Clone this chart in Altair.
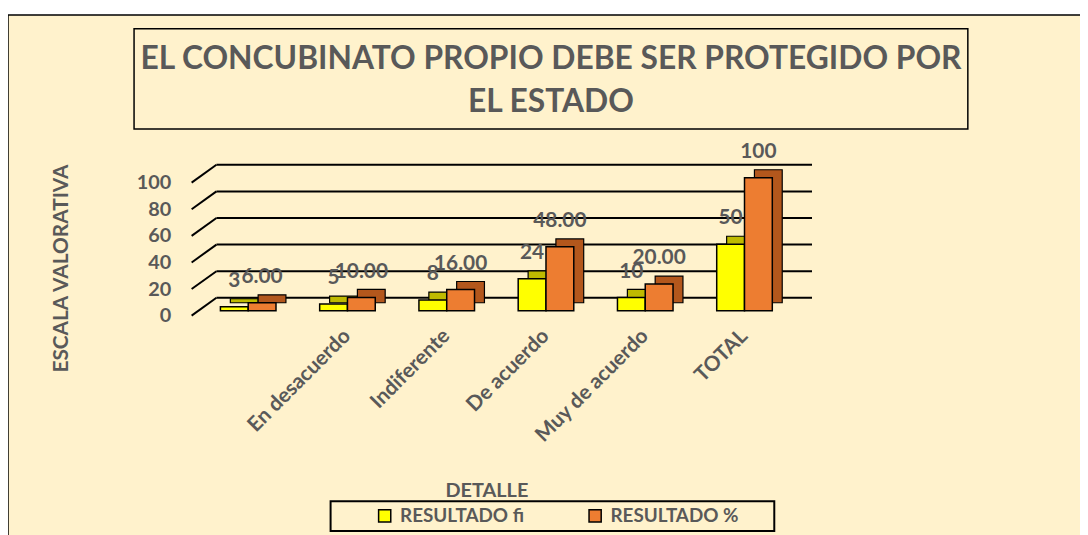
import altair as alt
import pandas as pd

# ---------------- data ----------------
categories = [" ", "En desacuerdo", "Indiferente", "De acuerdo", "Muy de acuerdo", "TOTAL"]
fi_values = [3, 5, 8, 24, 10, 50]
pct_values = [6, 10, 16, 48, 20, 100]
fi_labels = ["3", "5", "8", "24", "10", "50"]
pct_labels = ["6.00", "10.00", "16.00", "48.00", "20.00", "100"]
series_names = ["RESULTADO fi", "RESULTADO %"]
y_ticks = [0, 20, 40, 60, 80, 100]
title_lines = ["EL CONCUBINATO PROPIO DEBE SER PROTEGIDO POR", "EL ESTADO"]
y_title = "ESCALA VALORATIVA"
x_title = "DETALLE"

# ---------------- styling ----------------
FONT = "Lato"
TXT = "#595959"
BG = "#FFF2CC"
YELLOW, YELLOW_DARK = "#FFFF00", "#BFBA00"
ORANGE, ORANGE_DARK = "#ED7D31", "#B3571C"

rows = []
for c, v, l in zip(categories, fi_values, fi_labels):
    rows.append({"cat": c, "serie": series_names[0], "valor": v, "etiqueta": l})
for c, v, l in zip(categories, pct_values, pct_labels):
    rows.append({"cat": c, "serie": series_names[1], "valor": v, "etiqueta": l})
df = pd.DataFrame(rows)
grid_df = pd.DataFrame({"valor": y_ticks})
one = pd.DataFrame({"k": [0]})

x_scale = alt.Scale(domain=categories, paddingInner=0, paddingOuter=0)
y_scale = alt.Scale(domain=[0, 100], nice=False)

x_axis = alt.Axis(
    title=x_title, labelAngle=-45, labelAlign="right", labelBaseline="middle",
    labelPadding=22, ticks=False, domain=False, grid=False, zindex=2,
    labelFont=FONT, labelFontSize=21, labelFontWeight="bold", labelColor=TXT,
    titleFont=FONT, titleFontSize=20, titleFontWeight="bold", titleColor=TXT,
    titleX=290, titleY=181, titleBaseline="middle", titleAnchor="start", titleAlign="center",
)
y_axis = alt.Axis(
    title=y_title, values=y_ticks, labelOffset=5, labelPadding=28,
    ticks=False, domain=False, grid=False, zindex=2,
    labelFont=FONT, labelFontSize=20, labelFontWeight="bold", labelColor=TXT,
    titleFont=FONT, titleFontSize=21, titleFontWeight="bold", titleColor=TXT,
    titleAngle=270, titleX=-138, titleY=91, titleBaseline="middle", titleAlign="center",
)
legend = alt.Legend(
    title=None, orient="none", direction="horizontal", legendX=178, legendY=331,
    symbolType="square", symbolSize=150, symbolStrokeColor="black", symbolStrokeWidth=1.5,
    labelFont=FONT, labelFontSize=19, labelFontWeight="bold", labelColor=TXT,
    labelOffset=6, columnPadding=62, padding=0,
)
color_enc = alt.Color("serie:N", scale=alt.Scale(domain=series_names, range=[YELLOW, ORANGE]), legend=legend)

X = alt.X("cat:N", scale=x_scale, sort=categories, axis=x_axis)
Y = alt.Y("valor:Q", scale=y_scale, axis=y_axis)

# ---------------- decorative frames ----------------
frame = alt.Chart(one).mark_rect(fill=BG, stroke="black", strokeWidth=1.5).encode(
    x=alt.value(-192), x2=alt.value(900), y=alt.value(-164), y2=alt.value(380))
title_box = alt.Chart(one).mark_rect(fill=BG, stroke="black", strokeWidth=1.5).encode(
    x=alt.value(-65), x2=alt.value(775), y=alt.value(-150), y2=alt.value(-49))
title_text = alt.Chart(one).mark_text(
    font=FONT, fontSize=32, fontWeight="bold", color=TXT, align="center",
    baseline="middle", lineHeight=44).encode(
    x=alt.value(355), y=alt.value(-120), text=alt.value(title_lines))
legend_box = alt.Chart(one).mark_rect(fill=BG, stroke="black", strokeWidth=2).encode(
    x=alt.value(133), x2=alt.value(580), y=alt.value(326), y2=alt.value(356))

# ---------------- gridlines (back wall) ----------------
grid_h = alt.Chart(grid_df).mark_rule(color="black", strokeWidth=2, yOffset=-13).encode(
    x=alt.value(18), x2=alt.value(618), y=Y)
grid_d = alt.Chart(grid_df).mark_rule(color="black", strokeWidth=2, yOffset=5, y2Offset=-13).encode(
    x=alt.value(-7), x2=alt.value(18), y=Y, y2="valor:Q")


def bars(serie, shift, fill_dark):
    base = alt.Chart(df).transform_filter(alt.datum.serie == serie)
    back = base.mark_bar(width=28, xOffset=shift + 10, yOffset=-8, y2Offset=-8,
                         color=fill_dark, stroke="black", strokeWidth=1.2).encode(x=X, y=Y)
    front = base.mark_bar(width=28, xOffset=shift, stroke="black", strokeWidth=1.5).encode(
        x=X, y=Y, color=color_enc)
    labels = base.mark_text(xOffset=shift, dy=-26, font=FONT, fontSize=21, fontWeight="bold",
                            color=TXT, baseline="middle", align="center").encode(
        x=X, y=Y, text="etiqueta:N")
    return back, front, labels


yb, yf, yl = bars(series_names[0], -14, YELLOW_DARK)
ob, of, ol = bars(series_names[1], 14, ORANGE_DARK)

chart = alt.layer(
    frame, title_box, title_text, legend_box, grid_h, grid_d,
    yb, yf, ob, of, yl, ol,
).properties(
    width=600, height=134,
    autosize=alt.AutoSizeParams(type="none"),
    padding={"left": 192, "top": 169, "right": 288, "bottom": 224},
    background="white",
).configure_view(stroke=None)

chart.save("out.html", embed_options={"renderer": "svg", "actions": False})
